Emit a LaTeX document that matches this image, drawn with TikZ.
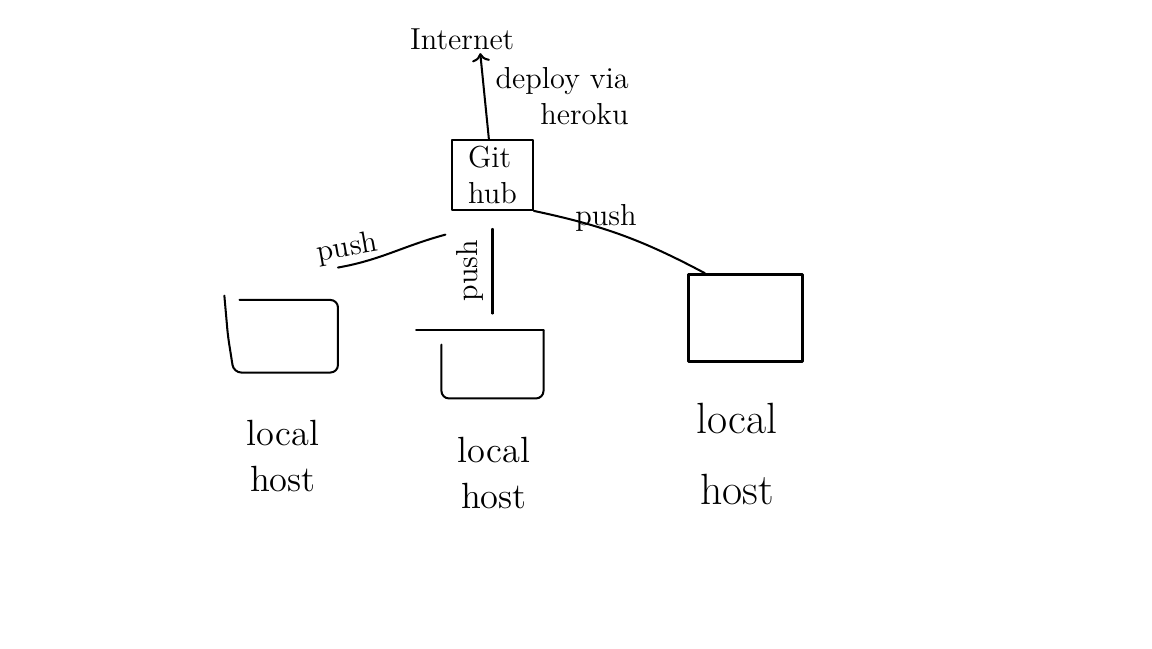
\documentclass[tikz,border=0pt]{standalone}
\usepackage{tikz}
\usetikzlibrary{arrows.meta}

\tikzset{
  hostbox/.style={thick, minimum width=1.42cm, minimum height=0.98cm},
  txt/.style={font=\large, inner sep=1pt},
  hostlabel/.style={font=\Large, align=center, inner sep=1pt},
}

\begin{document}
\begin{tikzpicture}[line cap=round, line join=round]
    % Cadre
    \useasboundingbox (0,0) rectangle (16,9);

    % Internet et GitHub
    \node[txt] (inet) at (6.42,8.45) {Internet};
    \node[draw, thick, align=left, minimum width=1.12cm, minimum height=0.97cm, font=\large, inner sep=2pt] (gh) at (6.84,6.57) {Git\\hub};

    % Deploiement
    \draw[thick, ->] (gh) -- ([xshift=0.25cm]inet.south)
        node[midway, right=3pt, align=right, txt] {deploy via\\heroku};

    % Local hosts
    \node[hostbox] (lh1) at (3.97,4.33) {};
    \node[hostbox, minimum width=1.39cm, minimum height=0.92cm] (lh2) at (6.84,3.94) {};
    \node[hostbox, draw, very thick, minimum width=1.58cm, minimum height=1.21cm] (lh3) at (10.35,4.58) {};

    % Contours a main levee
    \draw[thick, rounded corners=3pt] ([shift={(-0.13,0.06)}]lh1.north west) -- ([xshift=-0.08cm]lh1.west)
        -- (lh1.south west) -- (lh1.south east) -- (lh1.north east) -- ([xshift=0.08cm]lh1.north west);
    \draw[thick, rounded corners=3pt] ([yshift=-0.2cm]lh2.north west) -- (lh2.south west)
        -- (lh2.south east) -- (lh2.north east);
    \draw[thick] ([xshift=-0.35cm]lh2.north west) -- (lh2.north east);

    % Etiquettes
    \node[hostlabel] (lab1) at (3.93,2.67) {local\\host};
    \node[hostlabel] (lab2) at (6.86,2.43) {local\\host};
    \node[hostlabel, font=\LARGE] (lab3) at (10.24,2.69) {local\\[6pt]host};

    % Push vers GitHub
    \draw[thick] ([yshift=0.45cm]lh1.north east) to[out=10, in=195]
        node[pos=0.1, above, rotate=10, txt] {push} ([shift={(-0.08,-0.33)}]gh.south west);
    \draw[thick, shorten <=0.25cm, shorten >=0.23cm] (gh) -- (lh2)
        node[midway, rotate=90, above=2pt, txt] {push};
    \draw[thick] (gh.south east) to[bend left=8]
        node[pos=0.4, above=-2pt, txt] {push} ([xshift=0.25cm]lh3.north west);

\end{tikzpicture}
\end{document}
